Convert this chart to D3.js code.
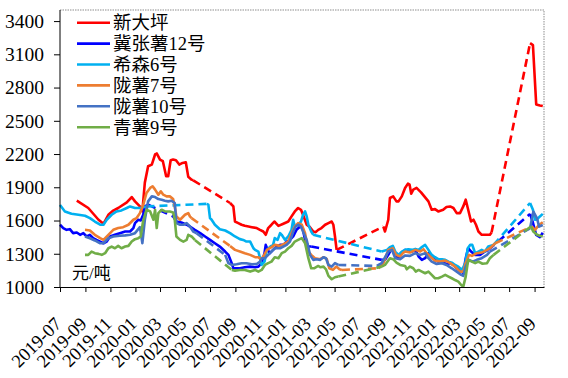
<!DOCTYPE html>
<html>
<head>
<meta charset="utf-8">
<script src="https://cdn.jsdelivr.net/npm/d3@7"></script>
<style>
  body { margin: 0; background: #fff; }
  svg { display: block; }
</style>
</head>
<body>
<script>
// null marks a break in the data: bridged with a dashed segment
const xinDaPing = [
  ["2019-08-11",1780],["2019-09-08",1713],["2019-10-03",1607],["2019-10-15",1570],["2019-10-27",1652],
  ["2019-11-08",1690],["2019-11-20",1713],["2019-12-11",1763],["2019-12-23",1812],["2019-12-31",1773],
  ["2020-01-12",1727],["2020-01-18",1682],["2020-01-24",1942],["2020-02-01",2090],["2020-02-10",2105],
  ["2020-02-18",2196],["2020-02-22",2205],["2020-03-01",2150],["2020-03-08",2135],["2020-03-16",1999],
  ["2020-03-21",1999],["2020-03-27",2144],["2020-04-02",2150],["2020-04-09",2144],["2020-04-17",2105],
  ["2020-04-25",2120],["2020-05-03",2126],["2020-05-09",1994],["2020-05-17",1969],["2020-05-21",1963],
  null,
  ["2020-08-19",1758],["2020-08-27",1727],["2020-08-31",1591],["2020-09-08",1577],["2020-09-16",1562],
  ["2020-09-24",1552],["2020-10-03",1546],["2020-10-11",1540],["2020-10-23",1532],["2020-10-31",1516],
  ["2020-11-08",1501],["2020-11-14",1471],["2020-11-20",1532],["2020-11-28",1562],["2020-12-05",1591],
  ["2020-12-15",1552],["2020-12-27",1571],["2021-01-08",1591],["2021-01-16",1637],["2021-01-24",1682],
  ["2021-02-01",1713],["2021-02-08",1697],["2021-02-13",1652],["2021-02-22",1562],["2021-03-02",1540],
  ["2021-03-10",1500],["2021-03-16",1495],["2021-03-22",1516],["2021-03-30",1532],["2021-04-08",1562],
  ["2021-04-16",1577],["2021-04-24",1591],["2021-04-28",1562],["2021-05-02",1456],["2021-05-06",1335],
  null,
  ["2021-08-28",1546],["2021-09-01",1501],["2021-09-09",1607],["2021-09-13",1803],["2021-09-21",1818],
  ["2021-09-29",1773],["2021-10-04",1773],["2021-10-12",1818],["2021-10-20",1894],["2021-10-27",1933],
  ["2021-10-31",1924],["2021-11-04",1842],["2021-11-09",1879],["2021-11-17",1894],["2021-11-28",1854],
  ["2021-12-06",1818],["2021-12-16",1773],["2021-12-24",1697],["2022-01-01",1703],["2022-01-09",1682],
  ["2022-01-21",1697],["2022-01-29",1722],["2022-02-07",1727],["2022-02-15",1713],["2022-02-23",1667],
  ["2022-03-03",1667],["2022-03-11",1727],["2022-03-17",1788],["2022-03-23",1697],["2022-03-30",1591],
  ["2022-04-05",1607],["2022-04-11",1562],["2022-04-17",1501],["2022-04-25",1471],["2022-05-03",1471],
  ["2022-05-15",1471],["2022-05-19",1492],
  null,
  ["2022-08-21",3201],["2022-08-28",3183],["2022-09-05",2648],["2022-09-14",2639],["2022-09-21",2633]
];

const jiZhang12 = [
  ["2019-07-01",1562],["2019-07-09",1532],["2019-07-17",1516],["2019-07-25",1522],["2019-08-02",1486],
  ["2019-08-11",1492],["2019-08-19",1471],["2019-08-27",1486],["2019-09-04",1456],["2019-09-12",1471],
  ["2019-09-20",1441],["2019-09-28",1425],["2019-10-07",1410],["2019-10-15",1395],["2019-10-23",1410],
  ["2019-10-31",1456],["2019-11-12",1471],["2019-11-24",1486],["2019-12-07",1501],["2019-12-19",1501],
  ["2019-12-27",1532],["2019-12-31",1577],["2020-01-08",1607],["2020-01-14",1601],["2020-01-20",1652],
  ["2020-01-24",1727],["2020-02-01",1743],
  null,
  ["2020-04-02",1637],["2020-04-10",1591],["2020-04-22",1582],["2020-05-05",1562],["2020-05-13",1546],
  ["2020-05-25",1516],["2020-06-07",1486],["2020-06-19",1456],["2020-07-01",1425],["2020-07-13",1395],
  ["2020-07-25",1365],["2020-08-07",1320],["2020-08-15",1290],["2020-08-23",1215],["2020-08-27",1169],
  ["2020-08-31",1169],["2020-09-12",1169],["2020-09-24",1178],["2020-10-07",1184],["2020-10-19",1178],
  ["2020-10-27",1184],["2020-11-04",1215],["2020-11-11",1305],["2020-11-14",1380],["2020-11-19",1335],
  ["2020-11-24",1305],["2020-12-02",1335],["2020-12-11",1365],["2020-12-19",1380],["2020-12-27",1380],
  ["2021-01-04",1410],["2021-01-12",1425],["2021-01-20",1456],["2021-01-28",1516],["2021-02-06",1546],
  ["2021-02-12",1532],["2021-02-18",1425],["2021-02-26",1365],["2021-03-05",1365],
  null,
  ["2021-08-24",1245],["2021-09-01",1245],["2021-09-09",1290],["2021-09-18",1350],["2021-09-26",1290],
  ["2021-10-04",1260],["2021-10-12",1305],["2021-10-20",1335],["2021-10-28",1320],["2021-11-06",1320],
  ["2021-11-14",1335],["2021-11-22",1275],["2021-11-30",1245],["2021-12-08",1260],["2021-12-16",1305],
  ["2021-12-24",1269],["2022-01-01",1245],["2022-01-09",1229],["2022-01-21",1220],["2022-01-29",1208],
  ["2022-02-07",1215],["2022-02-15",1199],["2022-02-23",1169],["2022-03-03",1154],["2022-03-11",1124],
  ["2022-03-17",1260],["2022-03-23",1350],["2022-03-30",1320],["2022-04-09",1290],["2022-04-21",1290],
  ["2022-05-03",1320],["2022-05-11",1335],
  null,
  ["2022-08-21",1660],["2022-08-28",1580],["2022-09-05",1470],["2022-09-14",1450],["2022-09-21",1490]
];

const xiSen6 = [
  ["2019-07-01",1740],["2019-07-13",1682],["2019-07-29",1661],["2019-08-15",1652],["2019-08-31",1643],
  ["2019-09-12",1622],["2019-09-24",1591],["2019-10-07",1562],["2019-10-15",1562],["2019-10-23",1607],
  ["2019-11-04",1652],["2019-11-16",1682],["2019-11-28",1691],["2019-12-11",1713],["2019-12-19",1727],
  ["2019-12-31",1713],["2020-01-12",1713],["2020-01-28",1727],
  null,
  ["2020-06-23",1750],["2020-06-27",1743],["2020-07-01",1622],["2020-07-05",1607],["2020-07-13",1562],
  ["2020-07-25",1522],["2020-08-07",1510],["2020-08-19",1486],["2020-08-31",1456],["2020-09-12",1432],
  ["2020-09-20",1425],["2020-09-28",1410],["2020-10-07",1410],["2020-10-15",1350],["2020-10-19",1335],
  ["2020-10-27",1320],["2020-10-31",1260],["2020-11-04",1199],["2020-11-11",1229],["2020-11-17",1335],
  ["2020-11-25",1365],["2020-12-02",1380],["2020-12-06",1441],["2020-12-13",1425],["2020-12-19",1486],
  ["2020-12-23",1471],["2020-12-31",1425],["2021-01-08",1456],["2021-01-16",1516],["2021-01-20",1607],
  ["2021-01-24",1546],["2021-02-01",1562],["2021-02-08",1591],["2021-02-13",1652],["2021-02-18",1682],
  ["2021-02-22",1637],["2021-02-26",1562],["2021-03-05",1501],["2021-03-10",1471],
  null,
  ["2021-08-24",1320],["2021-09-06",1335],["2021-09-13",1360],["2021-09-20",1371],["2021-09-26",1320],
  ["2021-10-04",1290],["2021-10-12",1320],["2021-10-20",1335],["2021-10-28",1341],["2021-11-06",1335],
  ["2021-11-14",1344],["2021-11-22",1335],["2021-11-30",1360],["2021-12-08",1380],["2021-12-16",1335],
  ["2021-12-24",1290],["2022-01-01",1269],["2022-01-09",1251],["2022-01-18",1251],["2022-01-26",1245],
  ["2022-02-03",1229],["2022-02-11",1220],["2022-02-19",1199],["2022-02-27",1184],["2022-03-08",1154],
  ["2022-03-16",1215],["2022-03-22",1350],["2022-03-28",1380],["2022-04-02",1380],["2022-04-09",1305],
  ["2022-04-17",1320],["2022-04-25",1335],["2022-05-03",1320],["2022-05-11",1365],["2022-05-24",1380],
  null,
  ["2022-08-21",1758],["2022-08-28",1697],["2022-09-02",1607],["2022-09-07",1610],["2022-09-14",1637],
  ["2022-09-21",1660]
];

const longShu7 = [
  ["2019-08-31",1516],["2019-09-12",1510],["2019-09-24",1471],["2019-10-07",1441],["2019-10-15",1425],
  ["2019-10-27",1471],["2019-11-08",1516],["2019-11-20",1532],["2019-12-02",1540],["2019-12-15",1562],
  ["2019-12-27",1607],["2020-01-04",1622],["2020-01-12",1667],["2020-01-20",1740],["2020-01-28",1849],
  ["2020-02-06",1894],["2020-02-12",1909],["2020-02-18",1879],["2020-02-26",1833],["2020-03-03",1863],
  ["2020-03-09",1833],["2020-03-17",1818],["2020-03-25",1818],["2020-04-02",1794],["2020-04-06",1727],
  ["2020-04-10",1637],["2020-04-19",1607],["2020-05-01",1652],["2020-05-09",1667],["2020-05-13",1637],
  ["2020-05-17",1622],
  null,
  ["2020-08-19",1370],["2020-08-31",1335],["2020-09-12",1320],["2020-09-24",1305],["2020-10-07",1290],
  ["2020-10-19",1269],["2020-10-27",1269],["2020-11-02",1251],["2020-11-08",1275],["2020-11-17",1335],
  ["2020-11-28",1360],["2020-12-06",1380],["2020-12-19",1371],["2020-12-29",1389],["2021-01-08",1410],
  ["2021-01-16",1486],["2021-01-24",1546],["2021-02-01",1577],["2021-02-10",1562],["2021-02-18",1486],
  ["2021-02-26",1320],["2021-03-05",1290],["2021-03-14",1260],["2021-03-27",1251],["2021-04-04",1269],
  ["2021-04-12",1251],["2021-04-18",1169],["2021-04-27",1154],["2021-05-05",1184],["2021-05-13",1160],
  ["2021-05-19",1154],
  null,
  ["2021-08-16",1169],["2021-08-28",1215],["2021-09-09",1335],["2021-09-20",1350],["2021-09-28",1290],
  ["2021-10-08",1275],["2021-10-16",1311],["2021-10-20",1320],["2021-11-01",1311],["2021-11-14",1335],
  ["2021-11-26",1320],["2021-12-04",1341],["2021-12-12",1305],["2021-12-20",1275],["2022-01-01",1238],
  ["2022-01-14",1229],["2022-01-26",1238],["2022-02-07",1215],["2022-02-19",1184],["2022-03-03",1139],
  ["2022-03-11",1139],["2022-03-17",1215],["2022-03-25",1290],["2022-04-01",1281],["2022-04-13",1305],
  ["2022-04-25",1311],["2022-05-08",1335],["2022-05-15",1350],["2022-05-28",1395],
  null,
  ["2022-08-25",1546],["2022-09-02",1516],["2022-09-12",1560],["2022-09-21",1585]
];

const longShu10 = [
  ["2019-08-31",1456],["2019-09-12",1440],["2019-09-24",1420],["2019-10-07",1395],["2019-10-15",1395],
  ["2019-10-27",1440],["2019-11-08",1456],["2019-11-24",1462],["2019-12-07",1466],["2019-12-19",1471],
  ["2019-12-31",1486],["2020-01-12",1540],["2020-01-18",1395],["2020-01-24",1607],["2020-02-01",1773],
  ["2020-02-10",1818],["2020-02-18",1812],["2020-02-26",1794],["2020-03-05",1788],["2020-03-13",1779],
  ["2020-03-21",1773],["2020-03-29",1779],["2020-04-06",1758],["2020-04-10",1577],["2020-04-19",1562],
  ["2020-04-27",1562],["2020-05-05",1577],["2020-05-13",1546],["2020-05-21",1501],["2020-05-29",1486],
  null,
  ["2020-08-07",1290],["2020-08-15",1215],["2020-08-23",1199],["2020-09-04",1206],["2020-09-16",1215],
  ["2020-09-28",1215],["2020-10-11",1206],["2020-10-23",1208],["2020-10-31",1229],["2020-11-05",1260],
  ["2020-11-12",1260],["2020-11-20",1290],["2020-11-28",1320],["2020-12-06",1350],["2020-12-19",1350],
  ["2020-12-27",1365],["2021-01-04",1380],["2021-01-12",1410],["2021-01-20",1501],["2021-01-26",1546],
  ["2021-02-01",1562],["2021-02-08",1546],["2021-02-13",1501],["2021-02-22",1425],["2021-03-02",1290],
  ["2021-03-10",1245],["2021-03-18",1251],["2021-03-27",1245],["2021-04-04",1269],["2021-04-10",1260],
  ["2021-04-16",1199],["2021-04-24",1184],["2021-05-02",1215],["2021-05-10",1199],
  null,
  ["2021-08-12",1190],["2021-08-24",1215],["2021-09-09",1320],["2021-09-18",1335],["2021-09-26",1260],
  ["2021-10-08",1250],["2021-10-20",1285],["2021-11-01",1281],["2021-11-14",1305],["2021-11-26",1290],
  ["2021-12-08",1305],["2021-12-16",1260],["2021-12-24",1229],["2022-01-05",1208],["2022-01-18",1215],
  ["2022-01-29",1199],["2022-02-11",1169],["2022-02-23",1139],["2022-03-06",1109],["2022-03-11",1100],
  ["2022-03-17",1184],["2022-03-25",1245],["2022-04-03",1229],["2022-04-13",1245],["2022-04-25",1260],
  ["2022-05-08",1290],["2022-05-15",1320],
  null,
  ["2022-08-21",1530],["2022-08-29",1680],["2022-09-07",1620],["2022-09-12",1545],["2022-09-21",1560]
];

const qingShu9 = [
  ["2019-08-31",1290],["2019-09-08",1290],["2019-09-16",1320],["2019-09-24",1305],["2019-10-03",1299],
  ["2019-10-11",1290],["2019-10-19",1305],["2019-10-27",1350],["2019-11-04",1365],["2019-11-12",1350],
  ["2019-11-20",1371],["2019-11-28",1350],["2019-12-07",1365],["2019-12-15",1371],["2019-12-23",1410],
  ["2019-12-31",1432],["2020-01-08",1441],["2020-01-14",1456],["2020-01-20",1600],["2020-01-28",1697],
  ["2020-02-06",1682],["2020-02-14",1607],["2020-02-18",1697],["2020-02-22",1532],["2020-02-26",1667],
  ["2020-03-05",1697],["2020-03-13",1682],["2020-03-25",1682],["2020-04-02",1673],["2020-04-06",1607],
  ["2020-04-10",1456],["2020-04-19",1425],["2020-04-27",1410],["2020-05-05",1425],["2020-05-09",1471],
  ["2020-05-17",1456],["2020-05-25",1425],
  null,
  ["2020-08-23",1154],["2020-08-31",1148],["2020-09-12",1154],["2020-09-24",1154],["2020-10-07",1139],
  ["2020-10-19",1154],["2020-10-27",1139],["2020-11-04",1154],["2020-11-12",1199],["2020-11-20",1215],
  ["2020-11-28",1229],["2020-12-06",1269],["2020-12-15",1260],["2020-12-23",1305],["2020-12-31",1320],
  ["2021-01-08",1350],["2021-01-16",1371],["2021-01-24",1410],["2021-02-01",1425],["2021-02-10",1441],
  ["2021-02-18",1395],["2021-02-26",1260],["2021-03-05",1169],["2021-03-12",1169],["2021-03-22",1190],
  ["2021-03-27",1178],["2021-04-04",1184],["2021-04-10",1160],["2021-04-16",1100],["2021-04-24",1070],
  ["2021-05-02",1088],["2021-05-10",1094],
  null,
  ["2021-08-24",1184],["2021-09-01",1199],["2021-09-13",1260],["2021-09-21",1251],["2021-09-29",1220],
  ["2021-10-08",1199],["2021-10-20",1190],["2021-10-24",1160],["2021-11-01",1184],["2021-11-09",1169],
  ["2021-11-15",1139],["2021-11-22",1154],["2021-11-30",1139],["2021-12-08",1124],["2021-12-16",1139],
  ["2021-12-24",1109],["2022-01-01",1079],["2022-01-09",1079],["2022-01-18",1094],["2022-01-26",1109],
  ["2022-02-03",1094],["2022-02-11",1079],["2022-02-19",1063],["2022-02-27",1048],["2022-03-06",1018],
  ["2022-03-11",1003],["2022-03-17",1094],["2022-03-23",1245],["2022-04-01",1229],["2022-04-09",1215],
  ["2022-04-17",1229],["2022-04-27",1210],["2022-05-08",1215],["2022-05-15",1260],["2022-05-24",1290],
  null,
  ["2022-08-23",1546],["2022-08-29",1500],["2022-09-07",1471],["2022-09-14",1462],["2022-09-21",1456]
];

const seriesNames = ["新大坪", "冀张薯12号", "希森6号", "陇薯7号", "陇薯10号", "青薯9号"];
const seriesData = [xinDaPing, jiZhang12, xiSen6, longShu7, longShu10, qingShu9];
const seriesColors = ["#ff0000", "#0000ff", "#00b0f0", "#ed7d31", "#4472c4", "#70ad47"];

const yTicks = [1000, 1300, 1600, 1900, 2200, 2500, 2800, 3100, 3400];
const xTickDates = ["2019-07-01","2019-09-01","2019-11-01","2020-01-01","2020-03-01","2020-05-01",
  "2020-07-01","2020-09-01","2020-11-01","2021-01-01","2021-03-01","2021-05-01","2021-07-01",
  "2021-09-01","2021-11-01","2022-01-01","2022-03-01","2022-05-01","2022-07-01","2022-09-01"];
const unitLabel = "元/吨";

const FONT = '"Liberation Serif", "Times New Roman", "Noto Sans CJK SC", serif';
const parseDate = d3.timeParse("%Y-%m-%d");

function splitSegments(rows)
{
    const segs = [[]];
    rows.forEach(r => {
        if (r === null) segs.push([]);
        else segs[segs.length - 1].push({ date: parseDate(r[0]), value: r[1] });
    });
    return segs;
}

function plot()
{
    const W = 568, H = 378;
    const left = 60, right = 544, top = 10, bottom = 287;

    const svg = d3.select('body').append('svg')
        .attr('width', W).attr('height', H);

    const x = d3.scaleTime()
        .domain([parseDate("2019-07-01"), parseDate("2022-09-24")])
        .range([left, right]);
    const y = d3.scaleLinear()
        .domain([1000, 3500])
        .range([bottom, top]);

    // dotted frame on top and right
    svg.append('path')
        .attr('d', `M${left},${top}H${right}V${bottom}`)
        .attr('fill', 'none')
        .attr('stroke', '#b4b4b4')
        .attr('stroke-width', 1.5)
        .attr('stroke-dasharray', '1.5,1');

    const line = d3.line()
        .x(d => x(d.date))
        .y(d => y(d.value));

    seriesData.forEach((rows, i) => {
        const g = svg.append('g');
        const segs = splitSegments(rows);
        for (let k = 0; k + 1 < segs.length; k++) {
            const a = segs[k][segs[k].length - 1], b = segs[k + 1][0];
            g.append('path')
                .attr('d', line([a, b]))
                .attr('fill', 'none')
                .attr('stroke', seriesColors[i])
                .attr('stroke-width', 2.6)
                .attr('stroke-dasharray', '8,5');
        }
        segs.forEach(s => {
            g.append('path')
                .attr('d', line(s))
                .attr('fill', 'none')
                .attr('stroke', seriesColors[i])
                .attr('stroke-width', 2.6)
                .attr('stroke-linejoin', 'round');
        });
    });

    // axes
    const yAxis = svg.append('g')
        .attr('transform', `translate(${left},0)`)
        .call(d3.axisLeft(y).tickValues(yTicks).tickFormat(d3.format('d'))
            .tickSize(6).tickSizeOuter(0).tickPadding(10));
    yAxis.select('.domain').attr('d', `M0,${bottom}V${top}`);
    yAxis.selectAll('text')
        .style('font-family', FONT)
        .style('font-size', '19.5px');

    const xAxis = svg.append('g')
        .attr('transform', `translate(0,${bottom})`)
        .call(d3.axisBottom(x)
            .tickValues(xTickDates.map(parseDate))
            .tickSize(5).tickSizeOuter(0)
            .tickFormat(d3.timeFormat("%Y-%m")));
    xAxis.selectAll('text')
        .style('font-family', FONT)
        .style('font-size', '18.5px')
        .attr('text-anchor', 'end')
        .attr('dy', null)
        .attr('y', 0)
        .attr('transform', 'translate(2,38) rotate(-45)');
    svg.selectAll('.domain, .tick line').attr('stroke', '#000');

    // unit label
    svg.append('text')
        .attr('x', 72).attr('y', 279)
        .style('font-family', FONT)
        .style('font-size', '17px')
        .text(unitLabel);

    // legend
    const legend = svg.append('g');
    seriesNames.forEach((name, i) => {
        const ly = 22.7 + i * 20.9;
        legend.append('line')
            .attr('x1', 77).attr('x2', 110)
            .attr('y1', ly).attr('y2', ly)
            .attr('stroke', seriesColors[i])
            .attr('stroke-width', 2.6);
        legend.append('text')
            .attr('x', 113).attr('y', ly)
            .attr('dy', '0.36em')
            .style('font-family', FONT)
            .style('font-size', '18.5px')
            .text(name);
    });
}

plot();
</script>
</body>
</html>
